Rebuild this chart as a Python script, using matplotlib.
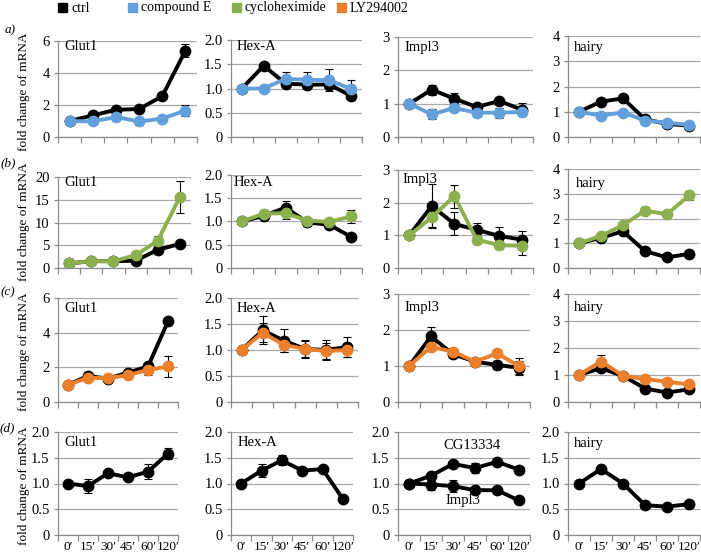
import numpy as np
import matplotlib
matplotlib.use("Agg")
import matplotlib.pyplot as plt
from matplotlib.patches import Rectangle

plt.rcParams['font.family'] = ['Liberation Serif', 'DejaVu Serif']

W, H = 701, 555

times = ["0\u2032", "15\u2032", "30\u2032", "45\u2032", "60\u2032", "120\u2032"]

legend_labels = ["ctrl", "compound E", "cycloheximide", "LY294002"]
legend_colors = ["#000000", "#62a0dc", "#8db04f", "#ea7f2c"]
C_CTRL, C_CPE, C_CHX, C_LY = legend_colors

# (a) ctrl vs compound E
glut1_a_ctrl = [1.0, 1.35, 1.7, 1.75, 2.55, 5.4]
glut1_a_ctrl_err = [0.05, 0.1, 0.1, 0.1, 0.12, 0.4]
glut1_a_cpe = [1.0, 0.97, 1.25, 0.97, 1.15, 1.65]
glut1_a_cpe_err = [0.1, 0.1, 0.1, 0.2, 0.2, 0.35]
hexa_a_ctrl = [1.0, 1.47, 1.1, 1.08, 1.08, 0.85]
hexa_a_ctrl_err = [0.03, 0.04, 0.07, 0.08, 0.08, 0.06]
hexa_a_cpe = [1.0, 1.0, 1.2, 1.18, 1.17, 0.99]
hexa_a_cpe_err = [0.03, 0.08, 0.13, 0.17, 0.23, 0.18]
impl3_a_ctrl = [1.0, 1.42, 1.15, 0.9, 1.08, 0.82]
impl3_a_ctrl_err = [0.03, 0.15, 0.17, 0.1, 0.07, 0.2]
impl3_a_cpe = [1.0, 0.68, 0.87, 0.73, 0.73, 0.75]
impl3_a_cpe_err = [0.03, 0.15, 0.1, 0.12, 0.15, 0.08]
hairy_a_ctrl = [1.0, 1.4, 1.53, 0.7, 0.52, 0.45]
hairy_a_ctrl_err = [0.03, 0.06, 0.06, 0.05, 0.05, 0.05]
hairy_a_cpe = [1.0, 0.85, 0.97, 0.65, 0.57, 0.48]
hairy_a_cpe_err = [0.03, 0.05, 0.05, 0.04, 0.04, 0.04]

# (b) ctrl vs cycloheximide
glut1_b_ctrl = [1.0, 1.5, 1.5, 1.6, 4.0, 5.3]
glut1_b_ctrl_err = [0.1, 0.2, 0.2, 0.3, 0.5, 0.4]
glut1_b_chx = [1.0, 1.5, 1.5, 2.8, 6.0, 15.6]
glut1_b_chx_err = [0.2, 0.2, 0.2, 0.5, 1.0, 3.5]
hexa_b_ctrl = [1.0, 1.12, 1.3, 0.98, 0.93, 0.67]
hexa_b_ctrl_err = [0.02, 0.06, 0.15, 0.08, 0.08, 0.05]
hexa_b_chx = [1.0, 1.17, 1.18, 1.02, 0.99, 1.11]
hexa_b_chx_err = [0.02, 0.08, 0.13, 0.04, 0.07, 0.14]
impl3_b_ctrl = [1.0, 1.9, 1.35, 1.17, 0.98, 0.87]
impl3_b_ctrl_err = [0.03, 0.67, 0.35, 0.2, 0.27, 0.27]
impl3_b_chx = [1.0, 1.55, 2.2, 0.87, 0.7, 0.68]
impl3_b_chx_err = [0.03, 0.28, 0.35, 0.1, 0.12, 0.28]
hairy_b_ctrl = [1.0, 1.22, 1.48, 0.68, 0.43, 0.57]
hairy_b_ctrl_err = [0.03, 0.05, 0.1, 0.08, 0.04, 0.05]
hairy_b_chx = [1.0, 1.3, 1.73, 2.32, 2.17, 2.93]
hairy_b_chx_err = [0.03, 0.06, 0.12, 0.15, 0.04, 0.18]

# (c) ctrl vs LY294002
glut1_c_ctrl = [1.0, 1.5, 1.35, 1.7, 2.05, 4.65]
glut1_c_ctrl_err = [0.05, 0.1, 0.1, 0.1, 0.1, 0.1]
glut1_c_ly = [1.0, 1.4, 1.38, 1.55, 1.85, 2.05]
glut1_c_ly_err = [0.05, 0.1, 0.15, 0.1, 0.3, 0.6]
hexa_c_ctrl = [1.0, 1.38, 1.18, 1.02, 1.0, 1.06]
hexa_c_ctrl_err = [0.02, 0.27, 0.22, 0.18, 0.19, 0.19]
hexa_c_ly = [1.0, 1.33, 1.1, 1.02, 0.98, 1.0]
hexa_c_ly_err = [0.02, 0.18, 0.13, 0.15, 0.15, 0.13]
impl3_c_ctrl = [1.0, 1.82, 1.33, 1.12, 1.03, 0.95]
impl3_c_ctrl_err = [0.03, 0.25, 0.1, 0.05, 0.1, 0.2]
impl3_c_ly = [1.0, 1.53, 1.4, 1.12, 1.35, 1.0]
impl3_c_ly_err = [0.03, 0.12, 0.1, 0.05, 0.05, 0.22]
hairy_c_ctrl = [1.0, 1.25, 0.97, 0.5, 0.35, 0.47]
hairy_c_ctrl_err = [0.03, 0.05, 0.05, 0.05, 0.05, 0.05]
hairy_c_ly = [1.0, 1.5, 0.97, 0.85, 0.75, 0.65]
hairy_c_ly_err = [0.03, 0.25, 0.05, 0.05, 0.05, 0.05]

# (d) ctrl only
glut1_d = [1.0, 0.95, 1.2, 1.12, 1.23, 1.58]
glut1_d_err = [0.02, 0.14, 0.03, 0.06, 0.15, 0.1]
hexa_d = [1.0, 1.25, 1.45, 1.25, 1.28, 0.7]
hexa_d_err = [0.02, 0.13, 0.1, 0.03, 0.03, 0.06]
cg13334_d = [1.0, 1.15, 1.38, 1.3, 1.42, 1.27]
cg13334_d_err = [0.03, 0.05, 0.06, 0.1, 0.04, 0.04]
impl3_d = [1.0, 0.98, 0.95, 0.87, 0.87, 0.67]
impl3_d_err = [0.03, 0.1, 0.12, 0.03, 0.03, 0.03]
hairy_d = [1.0, 1.28, 1.0, 0.58, 0.55, 0.6]
hairy_d_err = [0.02, 0.03, 0.03, 0.03, 0.03, 0.03]

fig = plt.figure(figsize=(W / 100, H / 100), dpi=100)

GRID = "#a8a8a8"
AXC = "#8c8c8c"
TICK_FS = 10.5
XTICK_FS = 9.5


def fmt_tick(v, step):
    if v == 0:
        return "0"
    if step < 1:
        return "%.1f" % v
    return "%d" % v


def panel(rect, ymax, ystep, series, gene=None, gene_xy=None, xlabels=False):
    l, t, r, b = rect
    ax = fig.add_axes([l / W, 1 - b / H, (r - l) / W, (b - t) / H])
    x = np.arange(len(times))
    for vals, errs, color in series:
        ax.errorbar(x, vals, yerr=errs, color=color, lw=2.8, marker='o', ms=7.5,
                    ecolor='black', elinewidth=0.8, capsize=2.6, capthick=0.8)
    ax.set_xlim(-0.5, len(times) - 0.5)
    ax.set_ylim(0, ymax)
    yt = np.arange(0, ymax + ystep / 2, ystep)
    ax.set_yticks(yt)
    ax.set_yticklabels([fmt_tick(v, ystep) for v in yt], fontsize=TICK_FS)
    ax.yaxis.grid(True, color=GRID, lw=0.9)
    ax.set_axisbelow(True)
    for s in ["top", "right"]:
        ax.spines[s].set_visible(False)
    for s in ["left", "bottom"]:
        ax.spines[s].set_color(AXC)
        ax.spines[s].set_linewidth(0.9)
    ax.set_xticks(x)
    ax.set_xticks(np.arange(-0.5, len(times)), minor=True)
    ax.tick_params(axis='x', which='major', length=0, labelsize=XTICK_FS, pad=4)
    ax.tick_params(axis='x', which='minor', length=4, color=AXC, width=0.9)
    ax.tick_params(axis='y', length=3, color=AXC, width=0.9, pad=3)
    if xlabels:
        ax.set_xticklabels(times)
    else:
        ax.set_xticklabels([])
    if gene:
        fig.text(gene_xy[0] / W, 1 - gene_xy[1] / H, gene, fontsize=10.5,
                 ha='left', va='center')
    return ax


# row (a)
panel((58, 41, 197, 137), 6, 2,
      [(glut1_a_ctrl, glut1_a_ctrl_err, C_CTRL), (glut1_a_cpe, glut1_a_cpe_err, C_CPE)],
      "Glut1", (64, 47))
panel((231, 40, 362, 137), 2.0, 0.5,
      [(hexa_a_ctrl, hexa_a_ctrl_err, C_CTRL), (hexa_a_cpe, hexa_a_cpe_err, C_CPE)],
      "Hex-A", (237, 47))
panel((398, 37, 533, 137), 3, 1,
      [(impl3_a_ctrl, impl3_a_ctrl_err, C_CTRL), (impl3_a_cpe, impl3_a_cpe_err, C_CPE)],
      "Impl3", (404, 48))
panel((568, 36, 700, 137), 4, 1,
      [(hairy_a_ctrl, hairy_a_ctrl_err, C_CTRL), (hairy_a_cpe, hairy_a_cpe_err, C_CPE)],
      "hairy", (574, 48))

# row (b)
panel((58, 177, 191, 268), 20, 5,
      [(glut1_b_ctrl, glut1_b_ctrl_err, C_CTRL), (glut1_b_chx, glut1_b_chx_err, C_CHX)],
      "Glut1", (64, 182))
panel((231, 175, 362, 268), 2.0, 0.5,
      [(hexa_b_ctrl, hexa_b_ctrl_err, C_CTRL), (hexa_b_chx, hexa_b_chx_err, C_CHX)],
      "Hex-A", (234, 182))
panel((398, 170, 533, 268), 3, 1,
      [(impl3_b_ctrl, impl3_b_ctrl_err, C_CTRL), (impl3_b_chx, impl3_b_chx_err, C_CHX)],
      "Impl3", (402, 179))
panel((568, 169, 700, 268), 4, 1,
      [(hairy_b_ctrl, hairy_b_ctrl_err, C_CTRL), (hairy_b_chx, hairy_b_chx_err, C_CHX)],
      "hairy", (576, 183))

# row (c)
panel((58, 298, 178, 402), 6, 2,
      [(glut1_c_ctrl, glut1_c_ctrl_err, C_CTRL), (glut1_c_ly, glut1_c_ly_err, C_LY)],
      "Glut1", (64, 308))
panel((231, 298, 358, 402), 2.0, 0.5,
      [(hexa_c_ctrl, hexa_c_ctrl_err, C_CTRL), (hexa_c_ly, hexa_c_ly_err, C_LY)],
      "Hex-A", (237, 308))
panel((398, 294, 530, 402), 3, 1,
      [(impl3_c_ctrl, impl3_c_ctrl_err, C_CTRL), (impl3_c_ly, impl3_c_ly_err, C_LY)],
      "Impl3", (404, 308))
panel((568, 294, 700, 402), 4, 1,
      [(hairy_c_ctrl, hairy_c_ctrl_err, C_CTRL), (hairy_c_ly, hairy_c_ly_err, C_LY)],
      "hairy", (574, 308))

# row (d)
panel((58, 432, 178, 535), 2.0, 0.5, [(glut1_d, glut1_d_err, C_CTRL)],
      "Glut1", (64, 442), xlabels=True)
panel((231, 432, 353, 535), 2.0, 0.5, [(hexa_d, hexa_d_err, C_CTRL)],
      "Hex-A", (238, 442), xlabels=True)
ax_d3 = panel((398, 432, 530, 535), 2.0, 0.5,
              [(cg13334_d, cg13334_d_err, C_CTRL), (impl3_d, impl3_d_err, C_CTRL)],
              xlabels=True)
ax_d3.text(2.85, 1.74, "CG13334", fontsize=10.5, ha='center', va='center')
ax_d3.text(2.45, 0.67, "Impl3", fontsize=10.5, ha='center', va='center')
panel((568, 432, 700, 535), 2.0, 0.5, [(hairy_d, hairy_d_err, C_CTRL)],
      "hairy", (574, 443), xlabels=True)

# y labels and panel letters
for yc in [92, 222, 352, 486]:
    fig.text(24 / W, 1 - yc / H, "fold change of mRNA", rotation=90,
             ha='center', va='center', fontsize=9.5)
for lab, (px, py) in zip(["a)", "(b)", "(c)", "(d)"],
                         [(5, 30), (1, 163), (1, 292), (0, 428)]):
    fig.text(px / W, 1 - py / H, lab, fontsize=9.5, style='italic',
             ha='left', va='center')

# legend
for lab, col, px in zip(legend_labels, legend_colors, [58, 128, 232, 337]):
    fig.add_artist(Rectangle((px / W, 1 - 12 / H), 9 / W, 9 / H,
                             transform=fig.transFigure, color=col))
    fig.text((px + 13) / W, 1 - 8 / H, lab, fontsize=10, ha='left', va='center')

fig.savefig("out.png", dpi=100)
